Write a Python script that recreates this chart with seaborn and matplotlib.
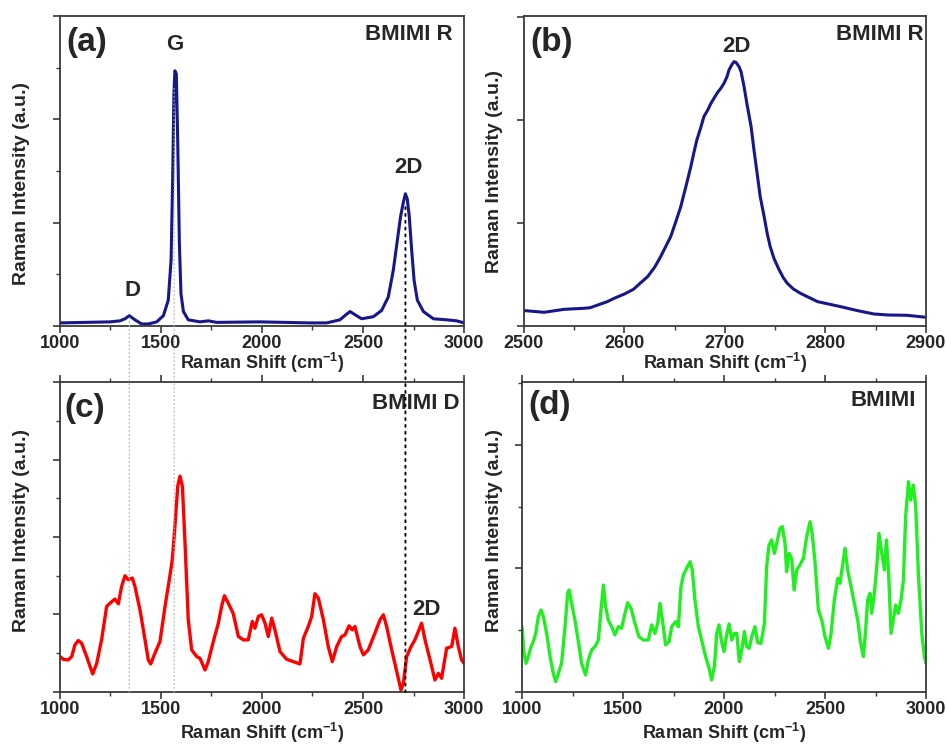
import numpy as np
import pandas as pd
import matplotlib
matplotlib.use("Agg")
import matplotlib.pyplot as plt
import seaborn as sns
from matplotlib.ticker import MultipleLocator, NullFormatter
from matplotlib.patches import ConnectionPatch

sns.set_theme(style="ticks")
plt.rcParams["font.family"] = ["Liberation Sans", "DejaVu Sans"]
plt.rcParams["font.weight"] = "bold"
plt.rcParams["mathtext.fontset"] = "custom"
plt.rcParams["mathtext.rm"] = "Liberation Sans:bold"
plt.rcParams["mathtext.bf"] = "Liberation Sans:bold"
plt.rcParams["mathtext.default"] = "bf"

# (a) BMIMI R, full range
shift_a = [1000, 1248, 1297, 1322, 1343, 1371, 1404, 1437, 1479, 1512, 1536, 1550,
           1558, 1564, 1569, 1576, 1583, 1591, 1599, 1611, 1635, 1693, 1734, 1776,
           1990, 2238, 2320, 2386, 2416, 2436, 2460, 2493, 2551, 2592, 2625, 2650,
           2670, 2686, 2700, 2710, 2719, 2729, 2741, 2753, 2769, 2799, 2848, 2914,
           2964, 3000]
int_a = [0.03, 0.04, 0.05, 0.07, 0.10, 0.06, 0.02, 0.02, 0.04, 0.10, 0.25, 0.64,
         1.44, 2.25, 2.47, 2.44, 1.77, 0.80, 0.31, 0.14, 0.06, 0.04, 0.05, 0.035,
         0.04, 0.03, 0.03, 0.06, 0.11, 0.14, 0.11, 0.07, 0.09, 0.15, 0.28, 0.54,
         0.83, 1.06, 1.20, 1.28, 1.23, 1.06, 0.73, 0.44, 0.25, 0.14, 0.07, 0.06,
         0.05, 0.03]

# (b) BMIMI R, 2D band
shift_b = [2500, 2520, 2540, 2560, 2566, 2583, 2590, 2600, 2609, 2615, 2623, 2630,
           2636, 2646, 2651, 2656, 2661, 2666, 2669, 2672, 2676, 2679, 2683, 2686,
           2689, 2692, 2696, 2699, 2702, 2704, 2707, 2709, 2711, 2714, 2716, 2719,
           2722, 2726, 2729, 2732, 2735, 2739, 2742, 2745, 2749, 2754, 2758, 2762,
           2768, 2775, 2792, 2815, 2832, 2848, 2862, 2881, 2900]
int_b = [0.15, 0.133, 0.162, 0.172, 0.178, 0.237, 0.27, 0.311, 0.357, 0.41, 0.479,
         0.57, 0.674, 0.868, 1.01, 1.159, 1.35, 1.547, 1.68, 1.806, 1.93, 2.033,
         2.10, 2.162, 2.21, 2.259, 2.31, 2.356, 2.42, 2.486, 2.54, 2.567, 2.56,
         2.518, 2.47, 2.324, 2.15, 1.936, 1.70, 1.483, 1.26, 1.062, 0.90, 0.771,
         0.65, 0.544, 0.47, 0.415, 0.36, 0.318, 0.237, 0.188, 0.149, 0.117, 0.107,
         0.104, 0.085]

# (c) BMIMI D
shift_c = [1000, 1017, 1041, 1058, 1074, 1091, 1107, 1132, 1149, 1162, 1182, 1206,
           1231, 1248, 1272, 1289, 1305, 1322, 1338, 1358, 1371, 1396, 1421, 1437,
           1449, 1470, 1495, 1520, 1545, 1556, 1569, 1583, 1594, 1606, 1619, 1635,
           1652, 1677, 1693, 1718, 1734, 1759, 1784, 1800, 1814, 1833, 1858, 1883,
           1908, 1932, 1952, 1965, 1982, 1998, 2015, 2031, 2048, 2064, 2089, 2122,
           2155, 2188, 2205, 2229, 2246, 2262, 2279, 2304, 2328, 2348, 2370, 2394,
           2411, 2431, 2447, 2460, 2485, 2502, 2526, 2559, 2584, 2601, 2617, 2642,
           2667, 2688, 2700, 2716, 2738, 2757, 2777, 2790, 2807, 2832, 2856, 2873,
           2889, 2914, 2939, 2955, 2972, 2988, 3000]
int_c = [0.457, 0.42, 0.414, 0.457, 0.608, 0.664, 0.63, 0.457, 0.328, 0.233, 0.371,
         0.673, 1.104, 1.147, 1.199, 1.138, 1.362, 1.50, 1.449, 1.47, 1.362, 1.061,
         0.673, 0.414, 0.362, 0.50, 0.651, 1.104, 1.513, 1.707, 2.139, 2.656, 2.785,
         2.656, 1.923, 0.931, 0.543, 0.457, 0.435, 0.284, 0.392, 0.651, 0.888, 1.104,
         1.242, 1.147, 1.009, 0.716, 0.673, 0.673, 0.91, 0.823, 0.974, 0.996, 0.888,
         0.716, 0.953, 0.802, 0.522, 0.422, 0.392, 0.362, 0.694, 0.845, 0.974, 1.268,
         1.212, 0.931, 0.586, 0.392, 0.586, 0.716, 0.737, 0.854, 0.802, 0.845, 0.586,
         0.479, 0.543, 0.759, 0.931, 0.996, 0.845, 0.543, 0.263, 0.026, 0.112, 0.457,
         0.586, 0.673, 0.802, 0.888, 0.673, 0.414, 0.155, 0.241, 0.177, 0.565, 0.586,
         0.823, 0.586, 0.414, 0.371]

# (d) BMIMI
shift_d = [1000, 1010, 1020, 1031, 1045, 1056, 1068, 1081, 1094, 1106, 1122, 1139,
           1155, 1167, 1180, 1196, 1213, 1226, 1233, 1246, 1262, 1279, 1295, 1315,
           1328, 1345, 1361, 1378, 1391, 1403, 1414, 1427, 1444, 1460, 1477, 1493,
           1510, 1523, 1540, 1559, 1579, 1601, 1625, 1642, 1658, 1672, 1683, 1695,
           1711, 1728, 1741, 1761, 1774, 1787, 1799, 1815, 1832, 1843, 1856, 1873,
           1889, 1909, 1926, 1939, 1952, 1964, 1975, 1988, 2000, 2013, 2025, 2038,
           2051, 2063, 2076, 2088, 2101, 2112, 2125, 2137, 2153, 2167, 2183, 2200,
           2211, 2223, 2236, 2249, 2261, 2277, 2289, 2302, 2310, 2322, 2335, 2347,
           2360, 2376, 2393, 2409, 2426, 2437, 2451, 2467, 2484, 2500, 2517, 2530,
           2546, 2563, 2574, 2591, 2599, 2612, 2629, 2645, 2662, 2675, 2690, 2701,
           2711, 2723, 2731, 2744, 2756, 2767, 2781, 2794, 2804, 2814, 2827, 2838,
           2850, 2863, 2876, 2888, 2899, 2913, 2924, 2937, 2949, 2962, 2979, 2992,
           3000]
int_d = [0.529, 0.313, 0.232, 0.286, 0.367, 0.408, 0.475, 0.61, 0.664, 0.61, 0.475,
         0.286, 0.151, 0.084, 0.151, 0.232, 0.529, 0.799, 0.826, 0.718, 0.583, 0.408,
         0.232, 0.138, 0.259, 0.34, 0.367, 0.421, 0.664, 0.866, 0.691, 0.583, 0.529,
         0.462, 0.529, 0.516, 0.637, 0.723, 0.677, 0.556, 0.448, 0.421, 0.421, 0.543,
         0.475, 0.556, 0.718, 0.583, 0.381, 0.408, 0.529, 0.57, 0.529, 0.853, 0.947,
         1.001, 1.055, 0.988, 0.745, 0.529, 0.421, 0.286, 0.192, 0.097, 0.205, 0.475,
         0.543, 0.408, 0.326, 0.462, 0.551, 0.421, 0.475, 0.475, 0.246, 0.34, 0.489,
         0.367, 0.354, 0.448, 0.529, 0.399, 0.394, 0.556, 1.015, 1.19, 1.231, 1.123,
         1.204, 1.325, 1.339, 1.204, 0.974, 1.123, 1.082, 0.826, 0.988, 1.028, 1.082,
         1.258, 1.379, 1.271, 1.042, 0.664, 0.583, 0.448, 0.354, 0.475, 0.745, 0.92,
         0.88, 1.069, 1.163, 0.988, 0.853, 0.718, 0.583, 0.408, 0.286, 0.502, 0.745,
         0.799, 0.637, 0.799, 1.015, 1.285, 1.123, 0.988, 1.231, 0.988, 0.475, 0.583,
         0.704, 0.637, 0.745, 0.907, 1.42, 1.703, 1.555, 1.676, 1.501, 0.961, 0.475,
         0.286, 0.232]

navy = "#17178a"
spine_col = "#3a3a3a"

fig = plt.figure(figsize=(9.46, 7.46), dpi=100)
ax_a = fig.add_axes([0.0634, 0.5630, 0.4271, 0.4155])
ax_b = fig.add_axes([0.5539, 0.5630, 0.4249, 0.4155])
ax_c = fig.add_axes([0.0634, 0.0724, 0.4271, 0.4155])
ax_d = fig.add_axes([0.5518, 0.0724, 0.4271, 0.4155])

panels = [
    (ax_a, shift_a, int_a, navy, 2.2, (1000, 3000), (0, 3.0), 500, 250, 1.0, 0.5),
    (ax_b, shift_b, int_b, navy, 2.2, (2500, 2900), (0, 3.01), 100, 50, 1.0, None),
    (ax_c, shift_c, int_c, "#ff0000", 2.4, (1000, 3000), (0, 4.0), 500, 250, 1.0, 0.5),
    (ax_d, shift_d, int_d, "#22ee22", 2.4, (1000, 3000), (0, 2.51), 500, 250, 1.0, 0.5),
]

for ax, xs, ys, col, lw, xlim, ylim, xmaj, xmin, ymaj, ymin in panels:
    df = pd.DataFrame({"shift": xs, "intensity": ys})
    sns.lineplot(data=df, x="shift", y="intensity", ax=ax, color=col, linewidth=lw,
                 sort=False, estimator=None)
    ax.set_xlim(*xlim)
    ax.set_ylim(*ylim)
    ax.xaxis.set_major_locator(MultipleLocator(xmaj))
    ax.xaxis.set_minor_locator(MultipleLocator(xmin))
    ax.yaxis.set_major_locator(MultipleLocator(ymaj))
    if ymin:
        ax.yaxis.set_minor_locator(MultipleLocator(ymin))
    ax.yaxis.set_major_formatter(NullFormatter())
    ax.yaxis.set_minor_formatter(NullFormatter())
    for sp in ax.spines.values():
        sp.set_visible(True)
        sp.set_color(spine_col)
        sp.set_linewidth(1.3)
    ax.tick_params(axis="both", which="major", direction="out", length=5, width=1.2,
                   color=spine_col, labelsize=13, pad=1.5)
    ax.tick_params(axis="both", which="minor", direction="out", length=3, width=1.0,
                   color=spine_col)
    for lab in ax.get_xticklabels():
        lab.set_fontweight("bold")
    ax.set_xlabel(r"Raman Shift (cm$^{-1}$)", fontsize=13, fontweight="bold")
    ax.set_ylabel("Raman Intensity (a.u.)", fontsize=14, fontweight="bold")

# top ticks on the lower panels
for ax in (ax_c, ax_d):
    ax.tick_params(axis="x", which="both", top=True)

ax_a.xaxis.set_label_coords(0.5, -0.079)
ax_b.xaxis.set_label_coords(0.5, -0.079)
ax_c.xaxis.set_label_coords(0.5, -0.094)
ax_d.xaxis.set_label_coords(0.5, -0.094)
ax_a.yaxis.set_label_coords(-0.074, 0.46)
ax_b.yaxis.set_label_coords(-0.052, 0.5)
ax_c.yaxis.set_label_coords(-0.074, 0.52)
ax_d.yaxis.set_label_coords(-0.047, 0.52)

big = dict(fontsize=24, fontweight="bold", va="center")
tag = dict(fontsize=16, fontweight="bold", va="center")

ax_a.text(0.017, 0.916, "(a)", transform=ax_a.transAxes, ha="left", **big)
ax_a.text(0.973, 0.939, "BMIMI R", transform=ax_a.transAxes, ha="right", **tag)
ax_a.text(1569, 2.72, "G", ha="center", **tag)
ax_a.text(1361, 0.34, "D", ha="center", **tag)
ax_a.text(2723, 1.53, "2D", ha="center", **tag)

ax_b.text(0.015, 0.916, "(b)", transform=ax_b.transAxes, ha="left", **big)
ax_b.text(0.993, 0.939, "BMIMI R", transform=ax_b.transAxes, ha="right", **tag)
ax_b.text(2711, 2.71, "2D", ha="center", **tag)

ax_c.text(0.012, 0.916, "(c)", transform=ax_c.transAxes, ha="left", **big)
ax_c.text(0.988, 0.932, "BMIMI D", transform=ax_c.transAxes, ha="right", **tag)
ax_c.text(2812, 1.06, "2D", ha="center", **tag)

ax_d.text(0.015, 0.923, "(d)", transform=ax_d.transAxes, ha="left", **big)
ax_d.text(0.975, 0.942, "BMIMI", transform=ax_d.transAxes, ha="right", **tag)

# guide lines running from panel (a) down through panel (c)
guides = [(2710, 1.15, "black", 1.4), (1343, 0.08, "#b0b0b0", 0.8), (1565, 2.3, "#b0b0b0", 0.8)]
for gx, gy, gc, glw in guides:
    con = ConnectionPatch(xyA=(gx, gy), coordsA=ax_a.transData,
                          xyB=(gx, 0), coordsB=ax_c.transData,
                          color=gc, linewidth=glw, linestyle=(0, (1, 2.5)))
    fig.add_artist(con)

fig.savefig("out.png", dpi=100)
